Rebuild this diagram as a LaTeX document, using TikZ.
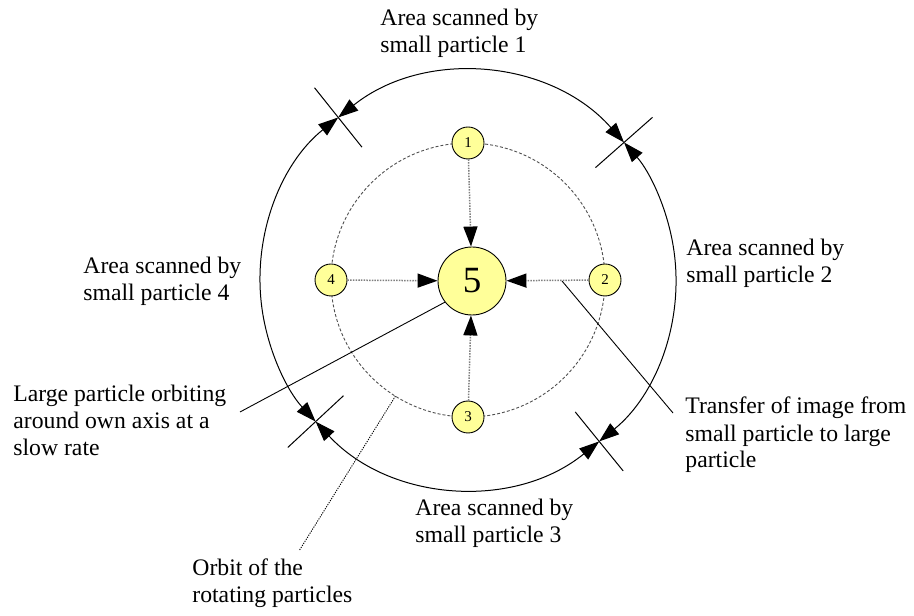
\documentclass[tikz,border=0pt]{standalone}
\usepackage{fontspec}
\setmainfont{Liberation Serif}
\usepackage{tikz}
\usetikzlibrary{arrows.meta,calc}
\definecolor{partc}{HTML}{FFFF99}
\definecolor{orbc}{HTML}{505050}
\definecolor{dotc}{HTML}{808080}
\tikzset{
  tip/.tip={Triangle[length=10pt,width=7pt,color=black]},
  part/.style={circle,draw=black,line width=0.45pt,fill=partc,minimum size=16pt,inner sep=0pt,font=\fontsize{7.5}{8}\selectfont},
  bigpart/.style={part,minimum size=34pt,font=\fontsize{18.5}{20}\selectfont},
  lbl/.style={anchor=base west,inner sep=0pt,align=left,font=\fontsize{11.85}{13.5}\selectfont},
  scan/.style={tip-tip,line width=0.5pt,draw=black},
  tick/.style={line width=0.5pt,draw=black},
  orb/.style={draw=orbc,line width=0.45pt,dash pattern=on 1.5pt off 1pt},
  ptr/.style={-tip,draw=dotc,line width=0.75pt,dash pattern=on 0.75pt off 0.6pt},
  lead/.style={line width=0.45pt,draw=black},
  leaddot/.style={lead,dash pattern=on 0.6pt off 0.6pt},
}

\begin{document}
\begin{tikzpicture}[x=0.5pt,y=0.5pt]
  \useasboundingbox (0,0) rectangle (914,615);
  \coordinate (C) at (468,335);
  % orbit and scanned areas
  \draw[orb] (C) circle (137);
  \foreach \s/\e in {41.4/128.6,128.6/222.9,222.9/309.1,309.1/401.4}
    \draw[scan] ($(C)+(\s:208)$) arc[start angle=\s,end angle=\e,radius=208];
  \foreach \a in {41.4,128.6,222.9,309.1}
    \draw[tick] ($(C)+(\a:170)$) -- ($(C)+(\a:246)$);
  % particles
  \node[bigpart] (p5) at ($(C)+(4,-1)$) {5};
  \foreach \n/\a in {1/90,2/0,3/270,4/180}
    \node[part] (p\n) at ($(C)+(\a:137)$) {\n};
  \foreach \n in {1,...,4} \draw[ptr] (p\n) -- (p5);
  % labels (anchored at the baseline of the last line)
  \node[lbl] (t1) at (380,562) {Area scanned by\\small particle 1};
  \node[lbl] (t2) at (686,332) {Area scanned by\\small particle 2};
  \node[lbl] (t3) at (415,73) {Area scanned by\\small particle 3};
  \node[lbl] (t4) at (83,314) {Area scanned by\\small particle 4};
  \node[lbl] (tlarge) at (13,159) {Large particle orbiting\\around own axis at a\\slow rate};
  \node[lbl] (ttrans) at (685,147) {Transfer of image from\\small particle to large\\particle};
  \node[lbl] (torbit) at (192,13) {Orbit of the\\rotating particles};
  % leader lines
  \coordinate (lg) at (240,203);
  \coordinate (tr) at (562,334);
  \coordinate (trend) at (673,202);
  \coordinate (ob) at ($(C)+(238:137)$);
  \coordinate (obend) at (299,64);
  \draw[lead] (p5.218) -- (lg);
  \draw[lead] (tr) -- (trend);
  \draw[leaddot] (ob) -- (obend);
\end{tikzpicture}
\end{document}
